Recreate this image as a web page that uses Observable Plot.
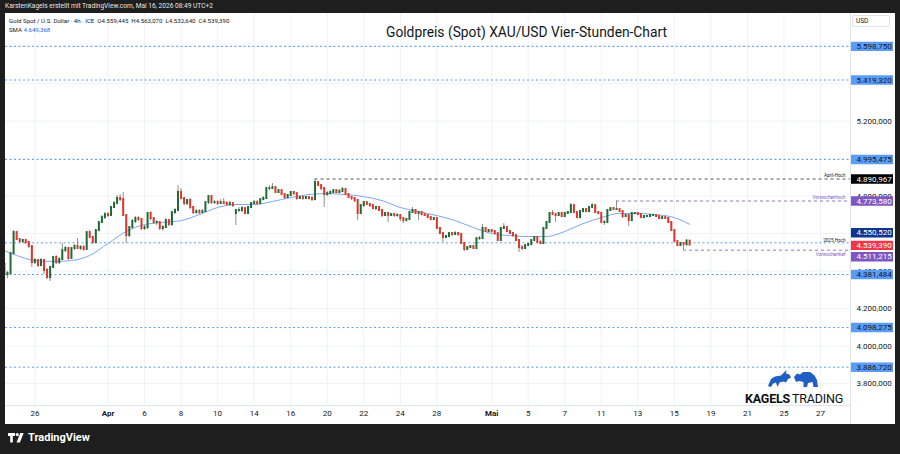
<!DOCTYPE html>
<html lang="de">
<head>
<meta charset="utf-8">
<script src="https://cdn.jsdelivr.net/npm/d3@7"></script>
<script src="https://cdn.jsdelivr.net/npm/@observablehq/plot@0.6"></script>
<style>
  html,body{margin:0;padding:0}
  body{width:900px;height:454px;background:#1e1e1e;position:relative;overflow:hidden;font-family:Roboto,"Noto Sans",sans-serif}
  #topbar{position:absolute;left:5px;top:0;height:13px;line-height:13px;color:#e6e6e6;font-size:6.6px;white-space:nowrap}
  #panel{position:absolute;left:5px;top:13px;width:890px;height:411px;background:#fff;overflow:hidden}
  #chart{position:absolute;left:0;top:0}
  .vsep{position:absolute;left:845px;top:0;width:1px;height:411px;background:#e0e3eb}
  .hsep{position:absolute;left:0;top:392px;width:845px;height:1px;background:#e0e3eb}
  #legend{position:absolute;left:4px;top:2.5px;font-size:6.1px;color:#131722;line-height:9px;white-space:nowrap}
  #legend .v{color:#2962ff}
  #title{position:absolute;left:381px;top:10.5px;font-size:13.8px;line-height:16px;color:#131722;white-space:nowrap}
  #usd{position:absolute;left:847px;top:2px;width:38px;height:12px;border:1px solid #e0e3eb;border-radius:2px;font-size:6.5px;line-height:10px;padding-left:3px;box-sizing:border-box;color:#131722}
  #brand{position:absolute;left:740px;top:356px;width:96px;text-align:center}
  #brand .word{font-size:12.5px;line-height:14px;color:#111;letter-spacing:-0.2px}
  #brand .word span{font-weight:400;margin-left:2px}
  #footer{position:absolute;left:8px;top:432px;color:#fff;font-weight:700;font-size:11px;line-height:12px;display:flex;align-items:center;gap:3px}
</style>
</head>
<body>
<div id="topbar">KarstenKagels erstellt mit TradingView.com, Mai 16, 2026 08:49 UTC+2</div>
<div id="panel">
  <div id="chart"></div>
  <div class="vsep"></div>
  <div class="hsep"></div>
  <div id="legend"></div>
  <div id="title">Goldpreis (Spot) XAU/USD Vier-Stunden-Chart</div>
  <div id="usd">USD</div>
  <div id="brand">
    <svg width="52" height="19" viewBox="0 0 52 19">
      <path fill="#1f5fc4" d="M1 17 L4 10 L8 7.5 L14 6.5 L17 3.5 L19.5 1 L19 4.5 L22.5 5.5 L24 8.5 L21 10 L19 13.5 L16.5 12.5 L12.5 13.5 L10.5 18 L9 13.5 L6 14.5 L4 18 Z"/>
      <path fill="#1f5fc4" d="M27 8 L30 4.5 L33 5.5 L36 3 L43 3 L47.5 6.5 L50 11 L51 18 L46.5 18 L45.5 13 L41 14 L40 18 L36.5 18 L36.5 13 L32 12 L29 13 Z"/>
    </svg>
    <div class="word"><b>KAGELS</b><span>TRADING</span></div>
  </div>
</div>
<div id="footer">
  <svg width="17" height="10" viewBox="0 0 17 10">
    <path fill="#fff" d="M0 0h7v3h-2.2v6.5h-2.6v-6.5h-2.2z"/>
    <circle cx="9.3" cy="1.6" r="1.6" fill="#fff"/>
    <path fill="#fff" d="M12.3 0h3.4l-3.8 9.5h-3.4z"/>
  </svg>
  <span>TradingView</span>
</div>
<script>
// ---------------- data (4h candles, Gold Spot XAU/USD) ----------------
const firstBar = 2; // bar index of first visible candle (bar 12 = first candle of Mar 26)
const open = [
  4435, 4381, 4387, 4493,
  4605, 4568, 4557, 4563, 4552, 4531,
  4445, 4456, 4429, 4456, 4403, 4365,
  4419, 4472, 4445, 4461, 4509, 4520,
  4467, 4520, 4531, 4520, 4525, 4515,
  4605, 4579, 4552, 4616, 4659, 4685,
  4701, 4696, 4739, 4760, 4787, 4781,
  4696, 4589, 4632, 4664, 4680, 4675,
  4627, 4632, 4707, 4680, 4659, 4659,
  4627, 4632, 4669, 4648, 4712, 4723,
  4819, 4787, 4760, 4776, 4739, 4712,
  4717, 4712, 4717, 4765, 4797, 4765,
  4765, 4760, 4765, 4760, 4755, 4760,
  4707, 4723, 4723, 4733, 4707, 4739,
  4760, 4765, 4760, 4781, 4787, 4840,
  4840, 4845, 4819, 4829, 4808, 4792,
  4803, 4819, 4813, 4787, 4792, 4787,
  4792, 4787, 4781, 4872, 4856, 4840,
  4808, 4813, 4819, 4829, 4819, 4824,
  4835, 4808, 4792, 4787, 4776, 4707,
  4749, 4765, 4755, 4749, 4733, 4739,
  4723, 4696, 4707, 4696, 4701, 4696,
  4696, 4680, 4669, 4675, 4712, 4723,
  4707, 4712, 4701, 4696, 4685, 4675,
  4680, 4627, 4600, 4579, 4584, 4600,
  4595, 4600, 4595, 4547, 4515, 4525,
  4531, 4520, 4573, 4573, 4627, 4611,
  4616, 4611, 4600, 4563, 4627, 4632,
  4611, 4600, 4589, 4563, 4525, 4520,
  4536, 4541, 4563, 4579, 4552, 4547,
  4627, 4659, 4707, 4701, 4696, 4707,
  4691, 4707, 4712, 4749, 4712, 4685,
  4717, 4728, 4717, 4739, 4749, 4712,
  4707, 4659, 4659, 4723, 4733, 4728,
  4728, 4717, 4691, 4696, 4669, 4707,
  4707, 4701, 4685, 4691, 4691, 4696,
  4696, 4691, 4680, 4685, 4680, 4659,
  4616, 4557, 4536, 4547, 4541, 4559.445
];
const high = [
  4445, 4397, 4499, 4616,
  4611, 4573, 4568, 4568, 4557, 4536,
  4467, 4461, 4467, 4461, 4413, 4424,
  4477, 4483, 4472, 4547, 4531, 4525,
  4525, 4541, 4573, 4536, 4536, 4611,
  4616, 4584, 4621, 4664, 4696, 4712,
  4712, 4744, 4771, 4803, 4808, 4819,
  4701, 4637, 4675, 4691, 4691, 4680,
  4643, 4712, 4717, 4685, 4669, 4664,
  4643, 4680, 4675, 4717, 4733, 4856,
  4840, 4792, 4781, 4787, 4744, 4728,
  4728, 4728, 4771, 4803, 4803, 4776,
  4776, 4781, 4787, 4771, 4771, 4765,
  4728, 4739, 4744, 4739, 4744, 4765,
  4776, 4776, 4787, 4797, 4845, 4856,
  4867, 4851, 4835, 4835, 4813, 4808,
  4824, 4824, 4819, 4797, 4803, 4797,
  4797, 4797, 4890.967, 4877, 4861, 4845,
  4824, 4829, 4835, 4835, 4835, 4845,
  4840, 4813, 4797, 4792, 4781, 4755,
  4771, 4771, 4760, 4755, 4744, 4744,
  4728, 4712, 4712, 4707, 4707, 4707,
  4701, 4685, 4680, 4717, 4739, 4728,
  4717, 4717, 4707, 4701, 4691, 4685,
  4685, 4632, 4605, 4589, 4605, 4605,
  4611, 4605, 4600, 4552, 4531, 4536,
  4536, 4579, 4584, 4648, 4632, 4621,
  4621, 4616, 4605, 4632, 4653, 4637,
  4616, 4605, 4595, 4568, 4536, 4541,
  4547, 4568, 4584, 4584, 4563, 4632,
  4664, 4712, 4723, 4707, 4712, 4712,
  4712, 4717, 4760, 4755, 4717, 4723,
  4733, 4733, 4744, 4760, 4755, 4717,
  4712, 4669, 4728, 4739, 4739, 4773.58,
  4733, 4723, 4701, 4701, 4712, 4712,
  4712, 4707, 4696, 4696, 4701, 4701,
  4701, 4696, 4691, 4691, 4685, 4664,
  4621, 4563, 4552, 4552, 4568, 4563.07
];
const low = [
  4365, 4360, 4376, 4488,
  4563, 4547, 4547, 4541, 4520, 4419,
  4435, 4419, 4424, 4381, 4355, 4344,
  4413, 4435, 4435, 4456, 4499, 4456,
  4461, 4509, 4515, 4509, 4504, 4509,
  4573, 4541, 4547, 4611, 4653, 4675,
  4685, 4691, 4733, 4755, 4771, 4691,
  4547, 4579, 4627, 4653, 4664, 4616,
  4616, 4621, 4669, 4648, 4643, 4616,
  4611, 4627, 4637, 4637, 4701, 4717,
  4781, 4749, 4749, 4728, 4701, 4701,
  4701, 4707, 4712, 4755, 4755, 4755,
  4749, 4755, 4755, 4744, 4744, 4739,
  4643, 4712, 4712, 4701, 4701, 4733,
  4755, 4749, 4755, 4776, 4781, 4829,
  4835, 4813, 4813, 4803, 4781, 4787,
  4797, 4803, 4776, 4781, 4776, 4781,
  4776, 4771, 4776, 4851, 4829, 4739,
  4797, 4808, 4813, 4813, 4813, 4819,
  4803, 4787, 4776, 4765, 4669, 4701,
  4739, 4749, 4739, 4728, 4723, 4717,
  4685, 4691, 4659, 4691, 4685, 4685,
  4664, 4653, 4664, 4669, 4707, 4701,
  4669, 4696, 4691, 4680, 4669, 4669,
  4621, 4595, 4552, 4573, 4579, 4584,
  4589, 4584, 4541, 4504, 4509, 4520,
  4515, 4515, 4563, 4568, 4605, 4605,
  4600, 4595, 4557, 4557, 4621, 4605,
  4595, 4579, 4557, 4499, 4509, 4515,
  4531, 4536, 4557, 4547, 4541, 4541,
  4621, 4653, 4696, 4659, 4691, 4685,
  4685, 4701, 4707, 4707, 4680, 4680,
  4712, 4712, 4712, 4733, 4707, 4701,
  4653, 4643, 4653, 4717, 4723, 4723,
  4712, 4680, 4685, 4637, 4664, 4701,
  4696, 4680, 4680, 4685, 4685, 4691,
  4685, 4675, 4675, 4675, 4653, 4611,
  4552, 4531, 4531, 4511.215, 4531, 4532.64
];
const close = [
  4381, 4387, 4493, 4605,
  4568, 4557, 4563, 4552, 4531, 4445,
  4456, 4429, 4456, 4403, 4365, 4419,
  4472, 4445, 4461, 4509, 4520, 4467,
  4520, 4531, 4520, 4525, 4515, 4605,
  4579, 4552, 4616, 4659, 4685, 4701,
  4696, 4739, 4760, 4787, 4781, 4696,
  4589, 4632, 4664, 4680, 4675, 4627,
  4632, 4707, 4680, 4659, 4659, 4627,
  4632, 4669, 4648, 4712, 4723, 4819,
  4787, 4760, 4776, 4739, 4712, 4717,
  4712, 4717, 4765, 4797, 4765, 4765,
  4760, 4765, 4760, 4755, 4760, 4749,
  4723, 4723, 4733, 4707, 4739, 4760,
  4765, 4760, 4781, 4787, 4840, 4840,
  4845, 4819, 4829, 4808, 4792, 4803,
  4819, 4813, 4787, 4792, 4787, 4792,
  4787, 4781, 4872, 4856, 4840, 4808,
  4813, 4819, 4829, 4819, 4824, 4835,
  4808, 4792, 4787, 4776, 4707, 4749,
  4765, 4755, 4749, 4733, 4739, 4723,
  4696, 4707, 4696, 4701, 4696, 4696,
  4680, 4669, 4675, 4712, 4723, 4707,
  4712, 4701, 4696, 4685, 4675, 4680,
  4627, 4600, 4579, 4584, 4600, 4595,
  4600, 4595, 4547, 4515, 4525, 4531,
  4520, 4573, 4573, 4627, 4611, 4616,
  4611, 4600, 4563, 4627, 4632, 4611,
  4600, 4589, 4563, 4525, 4520, 4536,
  4541, 4563, 4579, 4552, 4547, 4627,
  4659, 4707, 4701, 4696, 4707, 4691,
  4707, 4712, 4749, 4712, 4685, 4717,
  4728, 4717, 4739, 4749, 4712, 4707,
  4659, 4659, 4723, 4733, 4728, 4728,
  4717, 4691, 4696, 4669, 4707, 4707,
  4701, 4685, 4691, 4691, 4696, 4696,
  4691, 4680, 4685, 4680, 4659, 4616,
  4557, 4536, 4547, 4541, 4559.445, 4539.39
];

// SMA (bar index -> value)
const smaBar = [2, 6, 12, 18, 24, 30, 36, 42, 48, 54, 60, 66, 72, 78, 84, 90, 96, 102, 108, 114, 120, 126, 132, 138, 144, 150, 156, 162, 168, 174, 180, 186, 192, 198, 204, 210, 216, 222, 227];
const smaValue = [4509, 4483, 4456, 4451, 4456, 4483, 4547, 4611, 4648, 4659, 4669, 4701, 4739, 4755, 4755, 4771, 4792, 4808, 4813, 4808, 4797, 4776, 4739, 4717, 4696, 4669, 4632, 4600, 4589, 4584, 4584, 4611, 4653, 4685, 4707, 4707, 4701, 4685, 4649.368];

// time axis (bar index of first candle of the day) and labels
const tickBars = [12, 36, 48, 60, 72, 84, 96, 108, 120, 132, 144, 162, 174, 186, 198, 210, 222, 234, 246, 258, 270];
const tickLabels = ["26", "Apr", "6", "8", "10", "14", "16", "20", "22", "24", "28", "Mai", "5", "7", "11", "13", "15", "19", "21", "25", "27"];
const monthLabels = ["Apr", "Mai"];

// price axis: grid ticks and the tick labels that are visible
const priceTicks = [3800, 4000, 4200, 4400, 4600, 4800, 5000, 5200, 5400, 5600];
const priceTickLabels = [3800, 4000, 4200, 4400, 4800, 5200];

// horizontal levels
const levelNames = ["r1", "r2", "r3", "aprilHoch", "vorwochenhoch", "hoch2025", "last", "vorwochentief", "s1", "s2", "s3"];
const levelValues = [5598.75, 5419.32, 4995.475, 4890.967, 4773.58, 4550.52, 4539.39, 4511.215, 4381.484, 4098.275, 3886.72];
const levelStartBar = [null, null, null, 104, 203, null, null, 225, null, null, null];
const levelNotes = ["", "", "", "April-Hoch", "Vorwochenhoch", "2025 Hoch", "", "Vorwochentief", "", "", ""];

// ---------------- styles ----------------
const BLUE = {line: "#5b9cf6", dash: "2 2.5", box: "#5b9cf6", text: "#131722", labelDy: 0};
const levelStyles = {
  r1: BLUE, r2: BLUE, r3: BLUE, s1: BLUE, s2: BLUE, s3: BLUE,
  aprilHoch: {line: "#555", dash: "3 3", box: "#000000", text: "#ffffff", labelDy: 0, note: "#131722", noteDy: -3.5},
  vorwochenhoch: {line: "#9575cd", dash: "3 3", box: "#7e57c2", text: "#ffffff", labelDy: 0, note: "#7e57c2", noteDy: -3},
  hoch2025: {line: "#5b9cf6", dash: "2 2.5", box: "#0d3592", text: "#ffffff", labelDy: -10, note: "#131722", noteDy: -2},
  last: {line: null, box: "#f23645", text: "#ffffff", labelDy: 0.5},
  vorwochentief: {line: "#9575cd", dash: "3 3", box: "#7e57c2", text: "#ffffff", labelDy: 6.5, note: "#7e57c2", noteDy: 4.5}
};
const UP = "#1e6b35", DOWN = "#e0352b", WICK = "#8f8f8f";

// ---------------- build ----------------
const de = d3.formatLocale({decimal: ",", thousands: ".", grouping: [3], currency: ["", ""]});
const fmt = de.format(",.3f");

const bars = open.map((o, i) => ({bar: firstBar + i, open: o, high: high[i], low: low[i], close: close[i]}));
const sma = smaBar.map((b, i) => ({bar: b, value: smaValue[i]}));
const ticks = tickBars.map((b, i) => ({bar: b, label: tickLabels[i]}));
const levels = levelNames.map((n, i) => ({name: n, value: levelValues[i], start: levelStartBar[i], note: levelNotes[i]}));

const xDomain = [2.346, 279.84];
const yDomain = [3682.4, 5774.2];

const marks = [
  Plot.ruleX(ticks, {x: "bar", stroke: "#f0f2f6", strokeWidth: 1}),
  Plot.ruleY(priceTicks, {y: d => d, stroke: "#f0f2f6", strokeWidth: 1})
];

// level lines
for (const lv of levels) {
  const st = levelStyles[lv.name];
  if (!st.line) continue;
  const opts = {y: "value", stroke: st.line, strokeWidth: 1, strokeDasharray: st.dash, clip: true};
  if (lv.start != null) { opts.x1 = "start"; opts.x2 = () => xDomain[1]; }
  marks.push(Plot.ruleY([lv], opts));
}

// SMA
marks.push(Plot.line(sma, {x: "bar", y: "value", stroke: "#7ea6f6", strokeWidth: 1, curve: "monotone-x", clip: true}));

// candles
marks.push(Plot.ruleX(bars, {x: "bar", y1: "low", y2: "high", stroke: WICK, strokeWidth: 1, clip: true}));
marks.push(Plot.ruleX(bars, {x: "bar", y1: "open", y2: "close", stroke: d => d.close >= d.open ? UP : DOWN, strokeWidth: 2, strokeLinecap: "square", clip: true}));

// level notes
for (const lv of levels) {
  if (!lv.note) continue;
  const st = levelStyles[lv.name];
  marks.push(Plot.text([lv], {y: "value", text: "note", frameAnchor: "right", textAnchor: "end", dx: -5, dy: st.noteDy, fill: st.note, fontSize: 4.6}));
}

// price axis tick labels
marks.push(Plot.text(priceTickLabels, {y: d => d, text: d => fmt(d), frameAnchor: "right", textAnchor: "start", dx: 6, fill: "#131722", fontSize: 8}));

// level price labels
for (const lv of levels) {
  const st = levelStyles[lv.name];
  marks.push(Plot.ruleY([lv], {y: "value", stroke: st.box, strokeWidth: 9.4, insetLeft: 845.5, insetRight: -43, dy: st.labelDy}));
  marks.push(Plot.text([lv], {y: "value", text: d => fmt(d.value), frameAnchor: "right", textAnchor: "start", dx: 6, dy: st.labelDy, fill: st.text, fontSize: 8}));
}

// time axis labels
marks.push(Plot.text(ticks.filter(d => !monthLabels.includes(d.label)), {x: "bar", text: "label", frameAnchor: "bottom", dy: 10, fill: "#131722", fontSize: 8}));
marks.push(Plot.text(ticks.filter(d => monthLabels.includes(d.label)), {x: "bar", text: "label", frameAnchor: "bottom", dy: 10, fill: "#131722", fontSize: 8, fontWeight: "bold"}));

const chart = Plot.plot({
  width: 890, height: 411,
  marginLeft: 0, marginRight: 45, marginTop: 0, marginBottom: 19,
  style: {fontFamily: "Roboto, sans-serif", fontSize: "8px", background: "transparent", overflow: "visible"},
  x: {domain: xDomain, axis: null},
  y: {domain: yDomain, axis: null},
  marks
});
document.getElementById("chart").appendChild(chart);

// legend (last candle + SMA value)
const n = open.length - 1;
document.getElementById("legend").innerHTML =
  `Gold Spot / U.S. Dollar · 4h · ICE&nbsp; O${fmt(open[n])}&nbsp; H${fmt(high[n])}&nbsp; L${fmt(low[n])}&nbsp; C${fmt(close[n])}<br>` +
  `SMA <span class="v">${fmt(smaValue[smaValue.length - 1])}</span>`;
</script>
</body>
</html>
